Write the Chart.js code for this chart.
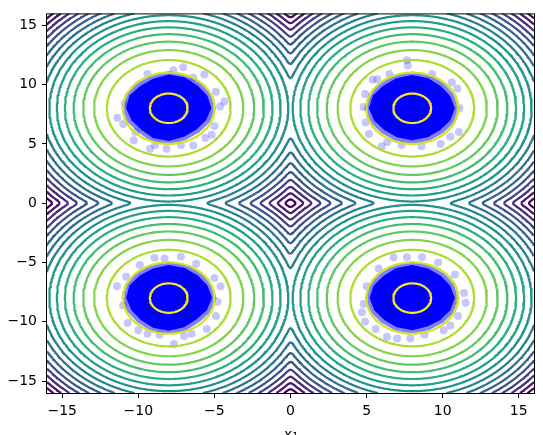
<!DOCTYPE html>
<html>
<head>
<meta charset="utf-8">
<script src="https://cdn.jsdelivr.net/npm/chart.js@4.4.1/dist/chart.umd.min.js"></script>
<style>
  html, body { margin: 0; padding: 0; background: #fff; }
  #wrap { width: 543px; height: 435px; }
</style>
</head>
<body>
<div id="wrap"><canvas id="contour-chart" width="543" height="435"></canvas></div>
<script>
// target: mixture of four gaussians
var centers = [[-8, 8], [8, 8], [-8, -8], [8, -8]];
var sigma = 1.0;
// log-density of each drawn contour, innermost (yellow) first
var levels = [-0.77, -4.52, -8.27, -12.02, -15.77, -19.52, -23.27, -27.02, -30.77,
              -34.52, -38.27, -42.02, -45.77, -49.52, -53.27, -57.02, -60.77];
var axisRange = [-16, 16];
var tickValues = [-15, -10, -5, 0, 5, 10, 15];

// sample clouds: radius of the solid core per direction (from +x, counter-clockwise)
var coreRadii = [
  [2.8, 2.75, 2.7, 2.8, 2.85, 2.7, 2.65, 2.8, 2.8, 2.65, 2.55, 2.7, 2.75, 2.6, 2.55, 2.65],
  [2.8, 2.7, 2.65, 2.75, 2.8, 2.75, 2.7, 2.8, 2.85, 2.7, 2.6, 2.65, 2.7, 2.65, 2.6, 2.7],
  [2.85, 2.75, 2.7, 2.75, 2.8, 2.7, 2.7, 2.8, 2.8, 2.65, 2.6, 2.7, 2.75, 2.65, 2.55, 2.7],
  [2.8, 2.7, 2.65, 2.7, 2.8, 2.75, 2.65, 2.75, 2.8, 2.7, 2.6, 2.65, 2.7, 2.6, 2.6, 2.7]
];
var haloWidth = 0.3;
// stray samples outside the cores
var strayPoints = [
  [[-7.05, 11.45], [-7.7, 11.2], [-5.66, 10.84], [-11.38, 7.2], [-10.99, 6.68], [-9.23, 4.6],
   [-8.14, 4.6], [-6.39, 4.87], [-4.35, 8.57], [-4.63, 8.16], [-5.18, 5.78], [-10.3, 5.3], [-5.0, 6.5],
   [-9.4, 10.9], [-6.4, 10.6], [-10.9, 8.4], [-4.9, 9.4], [-10.2, 6.0], [-7.2, 4.9], [-5.6, 5.5], [-8.9, 4.9]],
  [[7.66, 12.05], [7.7, 11.6], [5.4, 10.4], [5.7, 10.44], [4.93, 6.8], [5.15, 5.84], [10.96, 9.67],
   [11.07, 6.0], [9.86, 5.0], [6.36, 5.15], [6.0, 4.8], [4.8, 8.1],
   [9.3, 10.9], [6.5, 10.9], [10.6, 10.2], [11.1, 8.0], [4.9, 9.2], [8.6, 4.8], [10.5, 5.6], [7.3, 4.9]],
  [[-8.94, -4.6], [-8.28, -4.66], [-7.2, -4.5], [-11.4, -7.0], [-10.8, -6.2], [-4.6, -7.0], [-5.0, -6.3],
   [-10.7, -10.1], [-10.0, -10.7], [-7.66, -11.86], [-6.5, -11.0], [-5.5, -10.6], [-4.9, -9.5],
   [-9.9, -5.2], [-6.2, -5.1], [-11.0, -8.6], [-4.8, -8.3], [-8.6, -11.1], [-7.0, -11.2], [-9.4, -11.0]],
  [[6.77, -4.55], [7.65, -4.55], [8.64, -4.55], [4.8, -8.5], [4.7, -9.2], [11.4, -7.56], [11.5, -8.4],
   [6.34, -11.26], [7.0, -11.4], [7.87, -11.4], [10.06, -10.7], [10.5, -10.3],
   [9.7, -5.0], [5.8, -5.5], [5.0, -7.0], [10.8, -6.0], [4.9, -10.0], [8.8, -11.1], [11.0, -9.5], [5.6, -10.6]]
];

var viridisStops = ['#440154', '#482475', '#414487', '#355f8d', '#2a788e', '#21918c',
                    '#22a884', '#44bf70', '#7ad151', '#bddf26', '#fde725'];

function viridis(t) {
  var p = Math.max(0, Math.min(1, t)) * 10;
  var i = Math.min(9, Math.floor(p)), f = p - i;
  var a = viridisStops[i], b = viridisStops[i + 1];
  var rgb = [1, 3, 5].map(function (o) {
    var u = parseInt(a.substr(o, 2), 16), v = parseInt(b.substr(o, 2), 16);
    return Math.round(u + (v - u) * f);
  });
  return 'rgb(' + rgb.join(',') + ')';
}

function logDensity(x, y) {
  var vals = centers.map(function (c) {
    var dx = x - c[0], dy = y - c[1];
    return -(dx * dx + dy * dy) / (2 * sigma * sigma);
  });
  var m = Math.max.apply(null, vals), s = 0;
  vals.forEach(function (v) { s += Math.exp(v - m); });
  return m + Math.log(s);
}

// field on a grid, then marching squares per level
var GRID = 401;
var lo = axisRange[0], hi = axisRange[1];
var step = (hi - lo) / (GRID - 1);
var F = new Float64Array(GRID * GRID);
for (var j = 0; j < GRID; j++) {
  for (var i = 0; i < GRID; i++) F[j * GRID + i] = logDensity(lo + i * step, lo + j * step);
}

function contourData(L) {
  var pos = new Map(), adj = new Map(), segs = [];

  function crossing(id) {
    if (pos.has(id)) return;
    var k = id >> 1, dir = id & 1;
    var ci = k % GRID, cj = (k - ci) / GRID;
    var v0 = F[k], v1 = dir === 0 ? F[k + 1] : F[k + GRID];
    var t = (L - v0) / (v1 - v0);
    pos.set(id, dir === 0 ? { x: lo + (ci + t) * step, y: lo + cj * step }
                          : { x: lo + ci * step, y: lo + (cj + t) * step });
  }
  function addSeg(e1, e2) {
    crossing(e1); crossing(e2);
    var n = segs.length;
    segs.push([e1, e2]);
    if (!adj.has(e1)) adj.set(e1, []);
    if (!adj.has(e2)) adj.set(e2, []);
    adj.get(e1).push(n); adj.get(e2).push(n);
  }

  for (var cj = 0; cj < GRID - 1; cj++) {
    for (var ci = 0; ci < GRID - 1; ci++) {
      var k = cj * GRID + ci;
      var a = F[k], b = F[k + 1], c = F[k + GRID + 1], d = F[k + GRID];
      var code = (a > L ? 1 : 0) | (b > L ? 2 : 0) | (c > L ? 4 : 0) | (d > L ? 8 : 0);
      if (code === 0 || code === 15) continue;
      var eB = k * 2, eT = (k + GRID) * 2, eL = k * 2 + 1, eR = (k + 1) * 2 + 1;
      if (code === 5 || code === 10) {
        var mid = (a + b + c + d) / 4 > L;
        if ((code === 5) === mid) { addSeg(eB, eR); addSeg(eT, eL); }
        else { addSeg(eL, eB); addSeg(eR, eT); }
        continue;
      }
      var hit = [];
      if ((code & 1) !== ((code >> 1) & 1)) hit.push(eB);
      if (((code >> 1) & 1) !== ((code >> 2) & 1)) hit.push(eR);
      if (((code >> 2) & 1) !== ((code >> 3) & 1)) hit.push(eT);
      if (((code >> 3) & 1) !== (code & 1)) hit.push(eL);
      addSeg(hit[0], hit[1]);
    }
  }

  // join the segments into polylines
  var used = new Uint8Array(segs.length), out = [];
  function walk(start) {
    var chain = [], cur = start;
    while (true) {
      var list = adj.get(cur), nxt = -1;
      for (var q = 0; q < list.length; q++) if (!used[list[q]]) { nxt = list[q]; break; }
      if (nxt < 0) break;
      used[nxt] = 1;
      cur = segs[nxt][0] === cur ? segs[nxt][1] : segs[nxt][0];
      chain.push(cur);
    }
    return chain;
  }
  for (var s = 0; s < segs.length; s++) {
    if (used[s]) continue;
    used[s] = 1;
    var fwd = walk(segs[s][1]);
    var back = walk(segs[s][0]).reverse();
    var ids = back.concat([segs[s][0], segs[s][1]], fwd);
    ids.forEach(function (id) { out.push(pos.get(id)); });
    out.push({ x: NaN, y: NaN });
  }
  return out;
}

function ring(center, radii, extra) {
  var pts = radii.map(function (r, n) {
    var th = 2 * Math.PI * n / radii.length;
    return { x: center[0] + (r + extra) * Math.cos(th), y: center[1] + (r + extra) * Math.sin(th) };
  });
  pts.push(pts[0]);
  return pts;
}

var datasets = [];
var maxL = Math.max.apply(null, levels), minL = Math.min.apply(null, levels);
levels.forEach(function (L) {
  datasets.push({
    data: contourData(L),
    showLine: true,
    pointRadius: 0,
    borderWidth: 2.2,
    borderColor: viridis((L - minL) / (maxL - minL)),
    borderJoinStyle: 'round',
    fill: false,
    order: 0
  });
});
centers.forEach(function (c, n) {
  datasets.push({
    data: ring(c, coreRadii[n], 0),
    showLine: true, pointRadius: 0, borderWidth: 0,
    backgroundColor: 'rgb(0,0,255)', fill: 'shape', order: 1
  });
  datasets.push({
    data: ring(c, coreRadii[n], haloWidth),
    showLine: true, pointRadius: 0, borderWidth: 0,
    backgroundColor: 'rgba(0,0,255,0.5)', fill: 'shape', order: 2
  });
  datasets.push({
    data: strayPoints[n].map(function (p) { return { x: p[0], y: p[1] }; }),
    pointRadius: 4, borderWidth: 0,
    backgroundColor: 'rgba(0,0,255,0.22)', order: 3
  });
});

var frame = {
  id: 'frame',
  afterDatasetsDraw: function (chart) {
    var a = chart.chartArea, ctx = chart.ctx;
    ctx.save();
    ctx.strokeStyle = '#000';
    ctx.lineWidth = 1;
    ctx.strokeRect(a.left - 0.5, a.top + 0.5, a.right - a.left + 1, a.bottom - a.top);
    ctx.restore();
  }
};

var tickFont = { family: 'DejaVu Sans', size: 14 };
function axis(extra) {
  var base = {
    type: 'linear',
    min: axisRange[0],
    max: axisRange[1],
    afterBuildTicks: function (scale) {
      scale.ticks = tickValues.map(function (v) { return { value: v }; });
    },
    ticks: {
      font: tickFont, color: '#000', padding: 5,
      callback: function (v) { return String(v).replace('-', '\u2212'); }
    },
    grid: { display: true, drawOnChartArea: false, drawTicks: true, tickLength: 5, tickColor: '#000', tickWidth: 1 },
    border: { display: false }
  };
  return Object.assign(base, extra);
}

new Chart(document.getElementById('contour-chart').getContext('2d'), {
  type: 'scatter',
  data: { datasets: datasets },
  options: {
    animation: false,
    responsive: false,
    events: [],
    layout: { padding: { left: 0, right: 9, top: 4, bottom: 0 } },
    plugins: { legend: { display: false }, tooltip: { enabled: false } },
    scales: {
      x: axis({
        afterFit: function (scale) { scale.height = 42; },
        title: { display: true, text: 'x\u2081', color: '#000',
                 font: { family: 'DejaVu Sans', size: 14, style: 'italic' },
                 padding: { top: 0, bottom: -9 } }
      }),
      y: axis({
        afterFit: function (scale) { scale.width = 47; }
      })
    }
  },
  plugins: [frame]
});
</script>
</body>
</html>
